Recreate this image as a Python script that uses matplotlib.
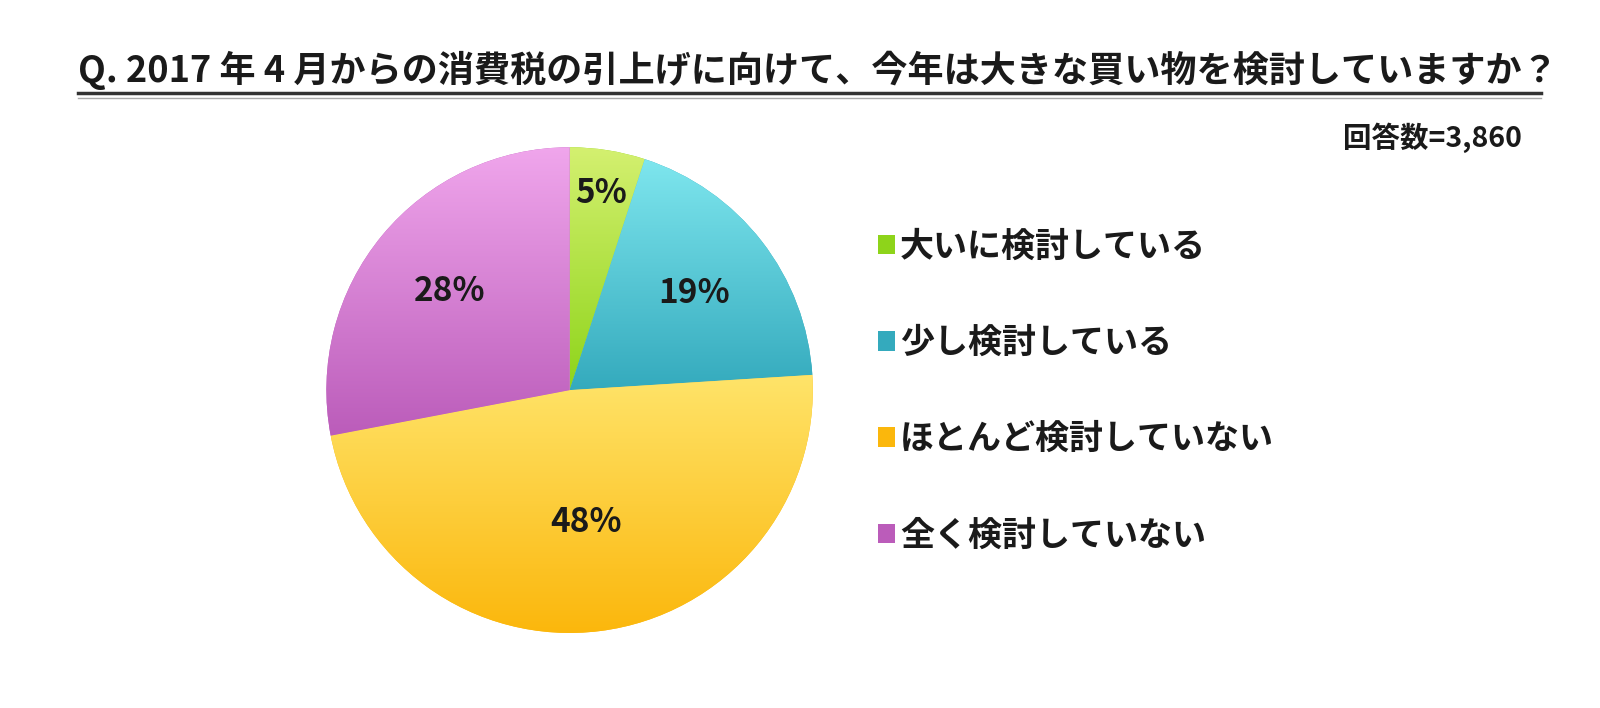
import numpy as np
import matplotlib.pyplot as plt
from matplotlib.lines import Line2D
from matplotlib.patches import Patch
from matplotlib.colors import LinearSegmentedColormap

plt.rcParams['font.family'] = ['Noto Sans CJK JP', 'DejaVu Sans']

title = 'Q. 2017 年 4 月からの消費税の引上げに向けて、今年は大きな買い物を検討していますか？'
n_answers = '回答数=3,860'
labels = ['大いに検討している', '少し検討している', 'ほとんど検討していない', '全く検討していない']
shares = [5, 19, 48, 28]
# light (top) / dark (bottom) colour of each slice
light = ['#d4f070', '#7ee6ee', '#ffe46a', '#f0a6ec']
dark = ['#8ed41a', '#34aabd', '#fbb70c', '#bb5cba']
label_r = [0.82, 0.65, 0.55, 0.64]

fig = plt.figure(figsize=(16, 7.08), dpi=100)

fig.text(0.049, 0.9, title, fontsize=26, fontweight='bold', color='#1a1a1a',
         va='center', ha='left')
fig.add_artist(Line2D([0.049, 0.963], [0.868, 0.868], color='#333333', lw=2.5))
fig.add_artist(Line2D([0.049, 0.963], [0.862, 0.862], color='#aaaaaa', lw=1))
fig.text(0.951, 0.805, n_answers, fontsize=20.5, fontweight='bold', color='#1a1a1a',
         ha='right', va='center')

ax = fig.add_axes([0.204, 0.106, 0.304, 0.686])
wedges, _ = ax.pie(shares, startangle=90, counterclock=False,
                   colors=dark, wedgeprops=dict(linewidth=0))
ax.set_aspect('equal')

for w, c0, c1 in zip(wedges, light, dark):
    x0, y0, x1, y1 = w.get_path().get_extents(w.get_patch_transform()).extents
    cmap = LinearSegmentedColormap.from_list('g', [c1, c0])
    grad = np.linspace(0, 1, 256).reshape(-1, 1)
    im = ax.imshow(grad, cmap=cmap, extent=[x0, x1, y0, y1], origin='lower',
                   aspect='auto', zorder=2)
    im.set_clip_path(w)

ax.set_xlim(-1.0, 1.0)
ax.set_ylim(-1.0, 1.0)

for w, s, r in zip(wedges, shares, label_r):
    ang = np.deg2rad((w.theta1 + w.theta2) / 2)
    ax.text(r * np.cos(ang), r * np.sin(ang), f'{s}%', fontsize=24,
            fontweight='bold', ha='center', va='center', color='#1a1a1a', zorder=3)

handles = [Patch(facecolor=c) for c in dark]
fig.legend(handles, labels, loc='upper left', bbox_to_anchor=(0.538, 0.701),
           frameon=False, handlelength=0.5, handleheight=0.5,
           handletextpad=0.15, labelspacing=1.8, borderpad=0, labelcolor='#1a1a1a',
           prop=dict(size=24.5, weight='bold'))

fig.savefig('out.png', dpi=100, facecolor='white')
